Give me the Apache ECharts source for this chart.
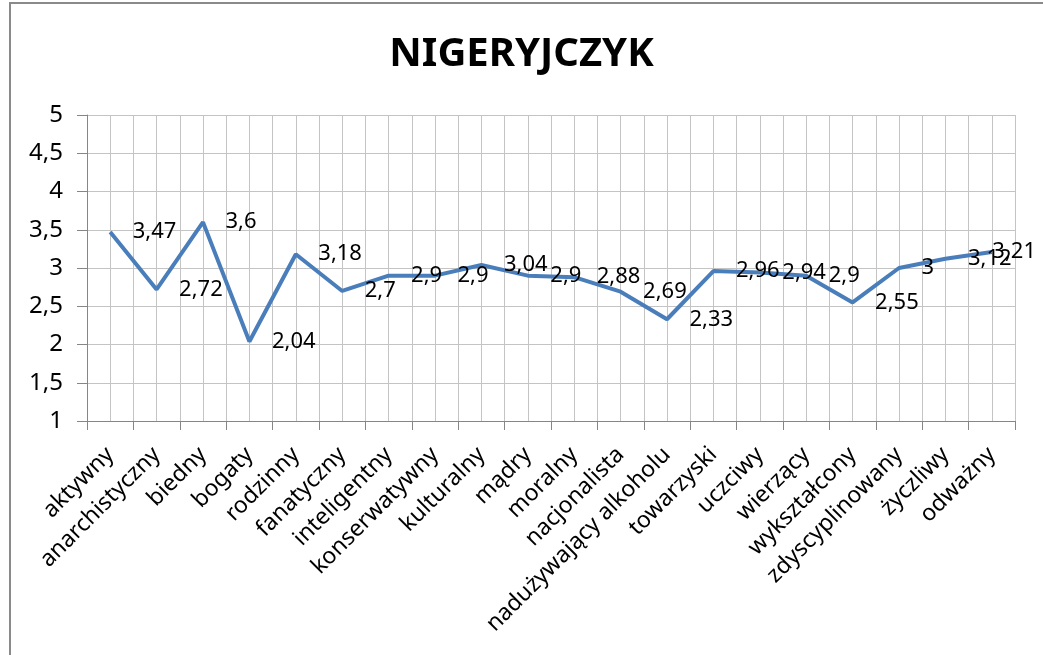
<!DOCTYPE html>
<html>
<head>
    <meta charset="utf-8">
    <script src="https://cdn.jsdelivr.net/npm/echarts@6/dist/echarts.min.js"></script>
    <style>
    html, body { margin: 0; padding: 0; background: #fff; }
    #main1 { width: 1043px; height: 655px; }
    </style>
</head>
<body>
    <div id="main1"></div>
    <script type="text/javascript">
        // dane z wykresu
        var chartTitle = 'NIGERYJCZYK';
        var categories = ['aktywny', 'anarchistyczny', 'biedny', 'bogaty', 'rodzinny', 'fanatyczny',
            'inteligentny', 'konserwatywny', 'kulturalny', 'mądry', 'moralny', 'nacjonalista',
            'nadużywający alkoholu', 'towarzyski', 'uczciwy', 'wierzący', 'wykształcony',
            'zdyscyplinowany', 'życzliwy', 'odważny'];
        var values = [3.47, 2.72, 3.6, 2.04, 3.18, 2.7, 2.9, 2.9, 3.04, 2.9, 2.88, 2.69,
            2.33, 2.96, 2.94, 2.9, 2.55, 3, 3.12, 3.21];
        var yTicks = [1, 1.5, 2, 2.5, 3, 3.5, 4, 4.5, 5];

        var font = 'Noto Sans';
        function pl(v) { return String(v).replace('.', ','); }

        var myChart = echarts.init(document.getElementById('main1'));

        var option = {
            animation: false,
            title: {
                text: chartTitle,
                left: 'center',
                top: 30,
                textStyle: { fontFamily: font, fontSize: 40, fontWeight: 'bold', color: '#000' }
            },
            graphic: [{
                type: 'polyline',
                shape: { points: [[10, 700], [10, 3], [1050, 3]] },
                style: { stroke: '#8a8a8a', lineWidth: 2, fill: null }
            }],
            grid: { left: 87, right: 28, top: 115, bottom: 234 },
            xAxis: [
                {
                    type: 'category',
                    data: categories,
                    boundaryGap: true,
                    axisLine: { lineStyle: { color: '#868686', width: 1 } },
                    axisTick: { show: true, length: 9, lineStyle: { color: '#868686' } },
                    axisLabel: {
                        rotate: 45, interval: 0, margin: 30,
                        fontFamily: font, fontSize: 23, color: '#000'
                    },
                    splitLine: { show: false }
                },
                {
                    // pomocnicza oś – pionowe linie siatki co pół kategorii
                    type: 'value',
                    min: 0, max: categories.length, interval: 0.5,
                    show: true,
                    position: 'bottom',
                    axisLine: { show: false },
                    axisTick: { show: false },
                    axisLabel: { show: false },
                    splitLine: { show: true, lineStyle: { color: '#c4c4c4', width: 1 } }
                }
            ],
            yAxis: {
                type: 'value',
                min: yTicks[0], max: yTicks[yTicks.length - 1], interval: 0.5,
                axisLine: { show: true, lineStyle: { color: '#868686' } },
                axisTick: { show: true, length: 10, lineStyle: { color: '#868686' } },
                axisLabel: {
                    margin: 24, fontFamily: font, fontSize: 24, color: '#000',
                    formatter: function (v) { return pl(v); }
                },
                splitLine: { show: true, lineStyle: { color: '#c4c4c4', width: 1 } }
            },
            series: [{
                type: 'line',
                xAxisIndex: 0,
                data: values,
                showSymbol: true,
                symbol: 'circle',
                symbolSize: 1,
                itemStyle: { color: 'rgba(0,0,0,0)' },
                lineStyle: { color: '#4a7ebb', width: 4 },
                label: {
                    show: true, position: 'right', distance: 22,
                    fontFamily: font, fontSize: 22, color: '#000',
                    formatter: function (p) { return pl(p.value); }
                },
                // etykieta wychodząca poza wykres jest przesuwana w lewo (jak w Excelu)
                labelLayout: function (params) {
                    var r = params.labelRect;
                    var over = r.x + r.width - 1036;
                    return over > 0 ? { dx: -over, hideOverlap: false } : { hideOverlap: false };
                },
                z: 5
            }]
        };

        myChart.setOption(option);
    </script>
</body>
</html>
